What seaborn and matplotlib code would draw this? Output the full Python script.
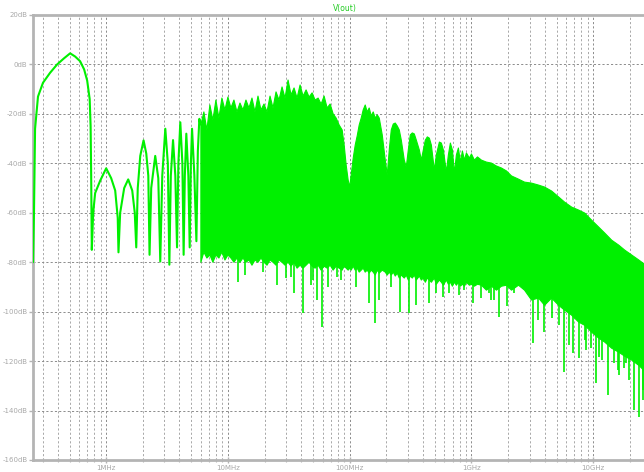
import matplotlib
matplotlib.use("Agg")
import matplotlib.pyplot as plt
from matplotlib.ticker import FixedLocator, LogLocator, NullFormatter
import pandas as pd
import seaborn as sns

# Low-frequency lobes of the V(out) spectrum (frequency in MHz, level in dB)
lobe_freq_mhz = [0.2506, 0.2553, 0.2606, 0.2754, 0.3027, 0.3459, 0.3954, 0.451, 0.5058,
                 0.5559, 0.611, 0.659, 0.698, 0.732, 0.745, 0.753, 0.762, 0.782, 0.812,
                 0.893, 1.0, 1.099, 1.186, 1.244, 1.262, 1.303, 1.406, 1.517, 1.637,
                 1.717, 1.766, 1.817, 1.905, 2.028, 2.134, 2.218, 2.271, 2.344, 2.529,
                 2.679, 2.781, 2.889, 3.060, 3.209, 3.303, 3.396, 3.541, 3.698, 3.819,
                 3.917, 4.064, 4.225, 4.327, 4.426, 4.552, 4.731, 4.853, 4.963, 5.073,
                 5.302, 5.508, 5.662, 5.825, 5.939]
lobe_db = [-80, -60, -26, -13, -7.4, -3.4, 0, 2.5, 4.5,
           3.2, 1.3, -2, -6.5, -14, -25, -45, -75, -60, -52,
           -47, -42, -46, -51, -62, -76, -60, -50, -46.5, -51,
           -60, -74, -50, -37, -30.7, -36, -45, -77, -50, -37,
           -46, -79.7, -45, -26, -40, -81, -45, -30.6, -45, -74,
           -40, -23.4, -40, -77, -45, -28, -45, -74, -40, -26,
           -45, -71.5, -35, -22, -24.3]

# Dense part of the spectrum: upper and lower envelope at shared frequencies (MHz, dB)
band_freq_mhz = [5.939, 6.286, 6.653, 7.042, 7.454, 7.890, 8.351, 8.839, 9.359, 9.906,
                 10.48, 11.10, 11.75, 12.44, 13.16, 13.93, 14.75, 15.61, 16.52, 17.49,
                 18.51, 19.60, 20.74, 21.96, 23.24, 24.60, 26.04, 27.56, 29.17, 30.88,
                 32.68, 34.60, 36.62, 38.77, 41.04, 43.44, 45.98, 48.67, 51.51, 54.53,
                 57.72, 61.09, 64.67, 68.45, 72.46, 76.70, 81.19, 85.94, 89.26, 92.71,
                 96.27, 99.06, 101.9, 105.9, 110.0, 114.2, 118.6, 123.2, 127.9, 132.9,
                 138.0, 143.3, 148.9, 154.6, 160.6, 166.8, 173.3, 183.4, 194.2, 201.6,
                 209.4, 217.5, 225.9, 234.6, 243.7, 253.1, 262.9, 278.2, 289.0, 300.2,
                 311.7, 323.8, 336.3, 349.3, 369.8, 384.0, 398.9, 414.3, 430.2, 446.9,
                 464.2, 491.3, 510.4, 540.2, 561.1, 582.6, 616.6, 640.6, 665.3, 691.1,
                 717.8, 745.4, 774.3, 804.1, 835.3, 867.7, 901.0, 953.7, 990.6, 1048,
                 1110, 1197, 1316, 1447, 1591, 1749, 1923, 2114, 2414, 2705,
                 3088, 3527, 3952, 4512, 5152, 5772, 6591, 7522, 8433, 9627,
                 11000, 12320, 14070, 16070, 17990, 20550, 23470, 26790]
band_top_db = [-24.3, -19.0, -26.3, -16.2, -22.3, -14.2, -21.5, -13.4, -18.2, -13.0,
               -17.4, -14.2, -19.0, -15.4, -18.2, -14.2, -17.4, -13.4, -19.0, -12.6,
               -18.2, -15.8, -19.0, -12.6, -17.4, -10.9, -14.2, -8.9, -13.4, -6.1,
               -12.1, -9.3, -13.4, -8.1, -12.6, -10.1, -13.0, -11.3, -14.2, -13.4,
               -15.8, -12.6, -17.4, -15.8, -19.8, -21.5, -24.3, -26.3, -32.4, -40.5,
               -46.6, -49.4, -44.5, -37.7, -32.4, -28.7, -24.3, -21.5, -18.2, -16.2,
               -19.0, -17.4, -20.6, -19.0, -21.5, -20.2, -21.5, -28.3, -38.5, -44.5,
               -34.4, -26.3, -23.9, -23.5, -24.7, -26.3, -30.4, -38.5, -41.3, -34.4,
               -28.3, -27.5, -27.9, -30.4, -34.4, -38.5, -34.4, -30.4, -29.1, -29.6,
               -32.4, -42.5, -36.4, -31.2, -31.6, -34.4, -43.3, -36.4, -31.6, -34.4,
               -43.7, -36.4, -33.6, -39.3, -34.8, -38.5, -35.6, -37.7, -36.0, -38.5,
               -37.2, -38.5, -39.3, -39.7, -40.9, -41.7, -42.9, -44.9, -46.2, -47.4,
               -47.8, -48.6, -49.4, -51.0, -53.4, -55.5, -57.5, -58.7, -59.9, -62.8,
               -65.6, -68.0, -70.9, -72.9, -74.9, -76.9, -78.9, -81.0]
band_bottom_db = [-79.8, -75.7, -78.1, -76.9, -79.8, -76.9, -78.1, -75.7, -78.9, -76.9,
                  -78.1, -79.8, -78.1, -79.8, -78.1, -79.8, -78.9, -81.0, -78.9, -79.8,
                  -78.1, -79.8, -81.0, -78.9, -79.8, -81.0, -78.9, -79.8, -81.0, -79.8,
                  -81.4, -79.8, -82.2, -81.0, -82.2, -81.0, -79.8, -81.4, -82.2, -81.0,
                  -83.0, -81.4, -82.2, -81.0, -83.0, -81.4, -82.2, -83.0, -81.4, -82.2,
                  -83.0, -82.2, -83.0, -81.4, -83.0, -82.2, -83.8, -83.0, -82.2, -83.8,
                  -83.0, -84.2, -83.0, -83.8, -85.0, -83.0, -84.2, -83.0, -83.8, -85.0,
                  -83.8, -85.0, -83.8, -85.4, -84.2, -86.2, -85.0, -86.2, -85.0, -87.0,
                  -85.4, -86.2, -85.0, -87.0, -85.4, -87.0, -86.2, -87.9, -86.2, -87.0,
                  -87.9, -86.2, -88.7, -87.0, -87.9, -89.1, -87.0, -88.7, -87.9, -89.5,
                  -87.9, -89.1, -87.9, -89.5, -88.7, -89.5, -87.9, -89.1, -88.7, -89.5,
                  -88.7, -89.1, -91.1, -89.5, -91.1, -89.5, -89.1, -91.1, -89.1, -91.1,
                  -95.1, -94.3, -97.2, -94.3, -97.2, -99.2, -101.2, -104.0, -105.3, -108.1,
                  -110.5, -112.1, -114.6, -116.2, -117.8, -119.4, -121.5, -124.3]

# Narrow notches that drop below the dense band (MHz, notch floor dB, band level dB)
notch_freq_mhz = [12.20, 13.93, 19.23, 25.07, 29.73, 32.68, 34.60, 41.58, 47.75, 50.26,
                  54.23, 59.62, 65.91, 79.22, 84.32, 112.1, 143.3, 160.6, 173.3, 217.5,
                  257.9, 305.9, 349.3, 446.9, 510.4, 579.4, 652.8, 789.0, 867.7, 1023,
                  1197, 1385, 1447, 1540, 1684, 1960, 2251, 3189, 3527, 3952,
                  4598, 5252, 5740, 6346, 6807, 7667, 8596, 8760, 9627, 10590,
                  11205, 11860, 13210, 14890, 15970, 16370, 17990, 18690, 19790, 21750,
                  23910, 25640, 25790]
notch_floor_db = [-87.9, -85.0, -83.8, -89.1, -86.2, -85.8, -92.3, -100.4, -89.1, -87.0,
                  -95.1, -106.1, -89.9, -85.8, -87.0, -89.9, -96.4, -104.5, -95.1, -89.9,
                  -100.0, -100.4, -97.2, -96.4, -92.3, -93.9, -92.3, -93.1, -91.1, -96.4,
                  -94.3, -92.3, -95.1, -95.1, -102.0, -97.6, -92.3, -112.6, -103.2, -108.1,
                  -102.4, -105.3, -124.3, -113.4, -116.6, -118.6, -111.3, -115.4, -114.6, -128.7,
                  -118.2, -119.4, -133.6, -120.6, -123.5, -125.5, -122.7, -120.6, -127.5, -139.7,
                  -142.5, -135.6, -131.6]
notch_base_db = [-78, -78, -78, -78, -78, -78, -78, -79, -79, -79,
                 -79, -79, -79, -80, -80, -80, -81, -81, -81, -83,
                 -83, -83, -84, -84, -85, -85, -85, -86, -86, -86,
                 -86, -86, -86, -86, -87, -87, -88, -92, -92, -93,
                 -93, -95, -97, -99, -100, -102, -104, -104, -106, -107,
                 -108, -109, -111, -113, -114, -114, -116, -116, -117, -118,
                 -119, -120, -120]

x_tick_mhz = [1, 10, 100, 1000, 10000]
x_tick_labels = ["1MHz", "10MHz", "100MHz", "1GHz", "10GHz"]
y_ticks_db = [20, 0, -20, -40, -60, -80, -100, -120, -140, -160]
y_tick_labels = ["20dB", "0dB", "-20dB", "-40dB", "-60dB", "-80dB",
                 "-100dB", "-120dB", "-140dB", "-160dB"]

TRACE = "#00f000"
FRAME = "#b4b4b4"
LABEL = "#a8a8a8"
GRID = "#8c8c8c"

sns.set_theme(style="white")
plt.rcParams["font.family"] = ["DejaVu Sans"]

fig = plt.figure(figsize=(6.44, 4.72), dpi=100, facecolor="white")
ax = fig.add_axes([33 / 644, 12 / 472, 1 - 33 / 644 + 0.002, 445 / 472])
ax.set_facecolor("white")

# dense band and its notches
ax.fill_between(band_freq_mhz, band_bottom_db, band_top_db, color=TRACE,
                linewidth=0.8, edgecolor=TRACE, zorder=3)
ax.vlines(notch_freq_mhz, notch_floor_db, notch_base_db, color=TRACE,
          linewidth=1.2, zorder=3)

# low-frequency lobes
lobes = pd.DataFrame({"freq": lobe_freq_mhz, "level": lobe_db})
sns.lineplot(data=lobes, x="freq", y="level", ax=ax, color=TRACE, linewidth=1.5,
             sort=False, estimator=None, zorder=4)

ax.set_xscale("log")
ax.set_xlim(0.2506, 26790)
ax.set_ylim(-160, 20)

ax.xaxis.set_major_locator(FixedLocator(x_tick_mhz))
ax.set_xticklabels(x_tick_labels)
ax.xaxis.set_minor_locator(LogLocator(base=10, subs=[2, 3, 4, 5, 6, 7, 8, 9], numticks=20))
ax.xaxis.set_minor_formatter(NullFormatter())
ax.set_yticks(y_ticks_db)
ax.set_yticklabels(y_tick_labels)
ax.set_xlabel("")
ax.set_ylabel("")

ax.grid(which="major", axis="both", color=GRID, linestyle=(0, (2.2, 2.2)), linewidth=0.7, zorder=1)
ax.grid(which="minor", axis="x", color=LABEL, linestyle=(0, (2.2, 2.2)), linewidth=0.7, zorder=1)
ax.set_axisbelow(True)

for side in ("left", "top", "bottom"):
    ax.spines[side].set_color(FRAME)
    ax.spines[side].set_linewidth(2)
ax.spines["right"].set_visible(False)

ax.tick_params(axis="y", which="major", direction="out", length=3, width=1,
               color=FRAME, labelcolor=LABEL, labelsize=5, pad=1, left=True)
ax.tick_params(axis="x", which="major", direction="inout", length=5, width=1,
               color=FRAME, labelcolor=LABEL, labelsize=5, pad=1, bottom=True)
ax.tick_params(axis="x", which="minor", direction="inout", length=3, width=0.8,
               color=FRAME, bottom=True)

fig.text(345 / 644, 1 - 8 / 472, "V(out)", color="#22cc22", fontsize=5.5,
         ha="center", va="center")

fig.savefig("out.png", dpi=100, facecolor="white")
